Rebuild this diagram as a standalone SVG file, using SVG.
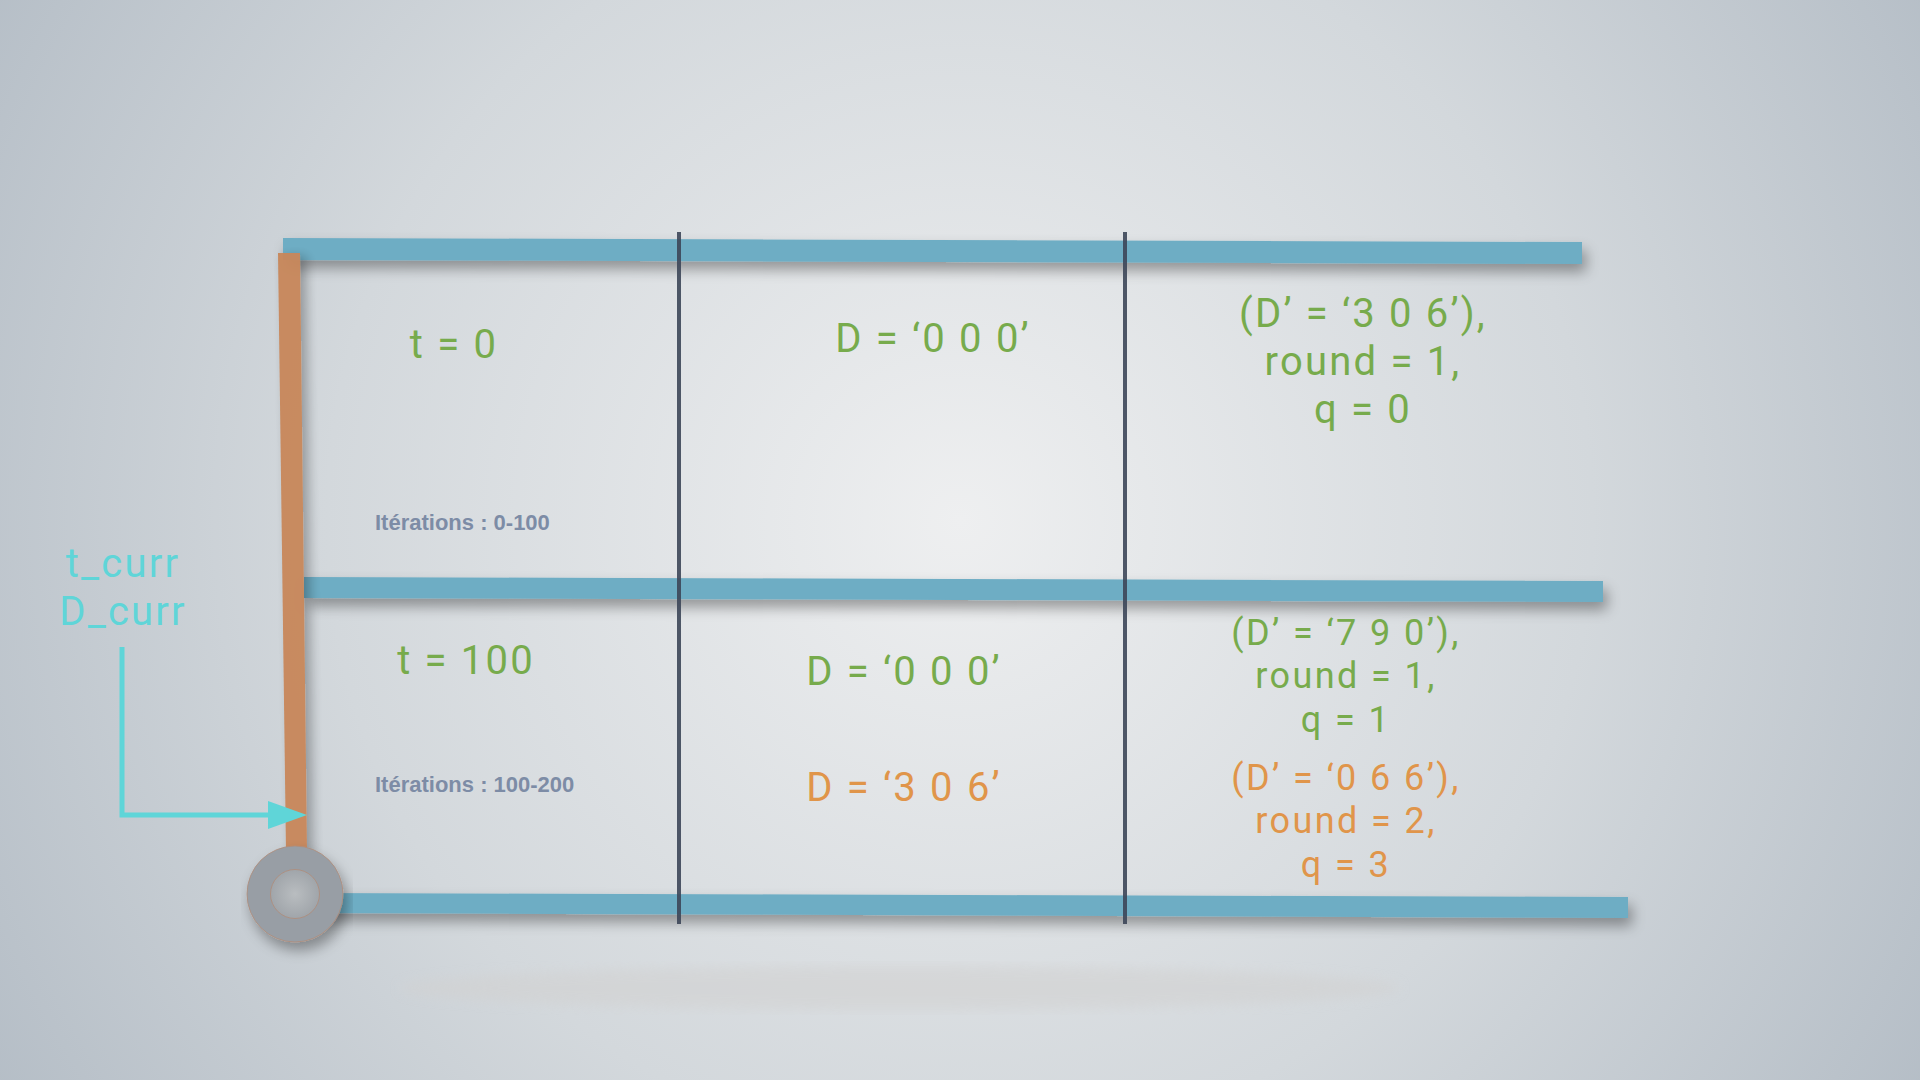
<svg xmlns="http://www.w3.org/2000/svg" width="1920" height="1080" viewBox="0 0 1920 1080">
<defs>
<radialGradient id="bg" cx="960" cy="520" r="1150" gradientUnits="userSpaceOnUse">
<stop offset="0" stop-color="#eeeff0"/>
<stop offset="0.55" stop-color="#d3d8dc"/>
<stop offset="1" stop-color="#b3bcc5"/>
</radialGradient>
<radialGradient id="hole" cx="0.5" cy="0.5" r="0.5">
<stop offset="0" stop-color="#b9bdc0"/>
<stop offset="1" stop-color="#a0a5aa"/>
</radialGradient>
<filter id="sh" x="-10%" y="-200%" width="120%" height="500%">
<feGaussianBlur in="SourceAlpha" stdDeviation="7"/>
<feOffset dx="4" dy="8" result="b"/>
<feComponentTransfer><feFuncA type="linear" slope="0.35"/></feComponentTransfer>
<feMerge><feMergeNode/><feMergeNode in="SourceGraphic"/></feMerge>
</filter>
<filter id="shv" x="-300%" y="-10%" width="700%" height="120%">
<feGaussianBlur in="SourceAlpha" stdDeviation="6"/>
<feOffset dx="6" dy="4"/>
<feComponentTransfer><feFuncA type="linear" slope="0.3"/></feComponentTransfer>
<feMerge><feMergeNode/><feMergeNode in="SourceGraphic"/></feMerge>
</filter>
<filter id="blur"><feGaussianBlur stdDeviation="6"/></filter>
<style>
.bar{fill:#6eadc4}
.orange{fill:#c8875a}
.vline{stroke:#3d4759;stroke-width:4}
.big{font-family:Roboto,"Liberation Sans",sans-serif;font-size:40px;text-anchor:middle;letter-spacing:2.2px}
.mid{font-family:Roboto,"Liberation Sans",sans-serif;font-size:36px;text-anchor:middle;letter-spacing:2.4px}
.g{fill:#77ab4c}
.o{fill:#e0954a}
.cy{fill:#5fd5d8}
.it{font-family:"Liberation Sans",Arial,sans-serif;font-weight:bold;font-size:22px;fill:#7d8ca6}
</style>
</defs>
<rect width="1920" height="1080" fill="url(#bg)"/>
<ellipse cx="900" cy="988" rx="500" ry="22" fill="#d2d2d2" opacity="0.6" filter="url(#blur)"/>

<g id="grid">
<polygon id="bar-top" class="bar" points="283,238 1582,242 1582,264 283,260" filter="url(#sh)"/>
<polygon id="bar-mid" class="bar" points="304,577 1603,581 1603,602 304,598" filter="url(#sh)"/>
<polygon id="bar-bottom" class="bar" points="310,893 1628,897 1628,918 310,913" filter="url(#sh)"/>
<line id="vline-1" class="vline" x1="679" y1="232" x2="679" y2="924" opacity="0.9"/>
<line id="vline-2" class="vline" x1="1125" y1="232" x2="1125" y2="924" opacity="0.9"/>
<polygon id="bar-time" class="orange" points="278,253 300,253 307,852 286,852" opacity="0.95" filter="url(#shv)"/>
</g>

<g id="wheel" filter="url(#sh)">
<circle cx="295" cy="894" r="48" fill="#989ea5" stroke="#b08c78" stroke-width="0.8"/>
<circle cx="295" cy="894" r="24.5" fill="url(#hole)" stroke="#b08c78" stroke-width="0.8"/>
</g>

<g id="connectors">
<polyline points="122,647 122,815 282,815" fill="none" stroke="#5fd5d8" stroke-width="5"/>
<polygon points="268,801 307,815 268,829" fill="#5fd5d8"/>
</g>

<g id="label-curr">
<text class="big cy" x="123" y="577">t_curr</text>
<text class="big cy" x="123" y="625">D_curr</text>
</g>

<g id="row1">
<text class="big g" x="454" y="358">t = 0</text>
<text class="it" x="375" y="530">Itérations : 0-100</text>
<text class="big g" x="933" y="352">D = ‘0 0 0’</text>
<text class="big g" x="1363" y="327">(D’ = ‘3 0 6’),</text>
<text class="big g" x="1363" y="375">round = 1,</text>
<text class="big g" x="1363" y="423">q = 0</text>
</g>

<g id="row2">
<text class="big g" x="466" y="674">t = 100</text>
<text class="it" x="375" y="792">Itérations : 100-200</text>
<text class="big g" x="904" y="685">D = ‘0 0 0’</text>
<text class="big o" x="904" y="801">D = ‘3 0 6’</text>
<text class="mid g" x="1346" y="645">(D’ = ‘7 9 0’),</text>
<text class="mid g" x="1346" y="688">round = 1,</text>
<text class="mid g" x="1346" y="732">q = 1</text>
<text class="mid o" x="1346" y="790">(D’ = ‘0 6 6’),</text>
<text class="mid o" x="1346" y="833">round = 2,</text>
<text class="mid o" x="1346" y="877">q = 3</text>
</g>
</svg>
